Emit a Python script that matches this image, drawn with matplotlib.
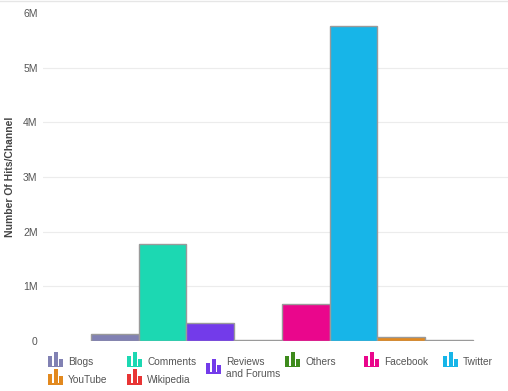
import matplotlib.pyplot as plt
from matplotlib.legend_handler import HandlerBase
from matplotlib.lines import Line2D
from matplotlib.patches import Rectangle
from matplotlib.ticker import FuncFormatter

plt.rcParams['font.family'] = ['Liberation Sans', 'DejaVu Sans']

channels = ['Blogs', 'Comments', 'Reviews\nand Forums', 'Others',
            'Facebook', 'Twitter', 'YouTube', 'Wikipedia']
hits = [130000, 1780000, 330000, 20000, 680000, 5760000, 70000, 20000]
colors = ['#8181b3', '#1cd8b2', '#733bea', '#3d8b1c',
          '#ea068c', '#17b5e8', '#e2891f', '#e83535']

# legend layout: which channels go in each legend column
legend_cols = [[0, 6], [1, 7], [2], [3], [4], [5]]


class BarIcon(HandlerBase):
    # little bar-chart icon like the original legend
    def create_artists(self, legend, orig, xd, yd, w, h, fontsize, trans):
        c = orig.get_facecolor()
        s = 11.0
        x0 = xd + (w - s) / 2
        y0 = yd + (h - s) / 2
        bw = s / 4.0
        out = []
        for i, frac in enumerate([0.7, 1.0, 0.55]):
            out.append(Rectangle((x0 + i * (bw + s / 8), y0), bw, s * frac,
                                 facecolor=c, edgecolor='none', transform=trans))
        out.append(Rectangle((x0, y0), s, s * 0.1, facecolor=c,
                             edgecolor='none', transform=trans))
        return out


fig = plt.figure(figsize=(5.08, 3.91), dpi=100)
ax = fig.add_axes([0.085, 0.128, 0.915, 0.839])

x = range(len(channels))
bars = ax.bar(x, hits, width=1.0, color=colors, edgecolor='#9a9a9a',
              linewidth=1.0, zorder=3)

ax.set_xlim(-1.5, 8.24)
ax.set_ylim(0, 6e6)
ax.set_yticks([i * 1e6 for i in range(7)])
ax.yaxis.set_major_formatter(FuncFormatter(lambda v, p: '0' if v == 0 else f'{int(v / 1e6)}M'))
for i in range(1, 6):
    ax.axhline(i * 1e6, color='#ececec', lw=0.8, zorder=1)
ax.set_xticks([])
ax.tick_params(axis='y', length=0, labelsize=7.5, labelcolor='#555555', pad=4)
for s in ax.spines.values():
    s.set_visible(False)
ax.set_ylabel('Number Of Hits/Channel', fontsize=7.5, fontweight='bold',
              color='#444444')
ax.yaxis.set_label_coords(-0.060, 0.5)

# thin border line at the very top
fig.add_artist(Line2D([0, 1], [0.997, 0.997], color='#e6e6e6', lw=1.0))

col_x = [49, 128, 207, 286, 365, 444]
for cx, idxs in zip(col_x, legend_cols):
    leg = fig.legend([bars[i] for i in idxs], [channels[i] for i in idxs],
                     handler_map={Rectangle: BarIcon()},
                     loc='upper left', bbox_to_anchor=(cx / 508, 1 - 357 / 391),
                     frameon=False, fontsize=7.3, handlelength=1.3,
                     handleheight=1.0, handletextpad=0.6, labelspacing=0.75,
                     borderaxespad=0, borderpad=0)
    for t in leg.get_texts():
        t.set_color('#555555')

fig.savefig('out.png', dpi=100)
